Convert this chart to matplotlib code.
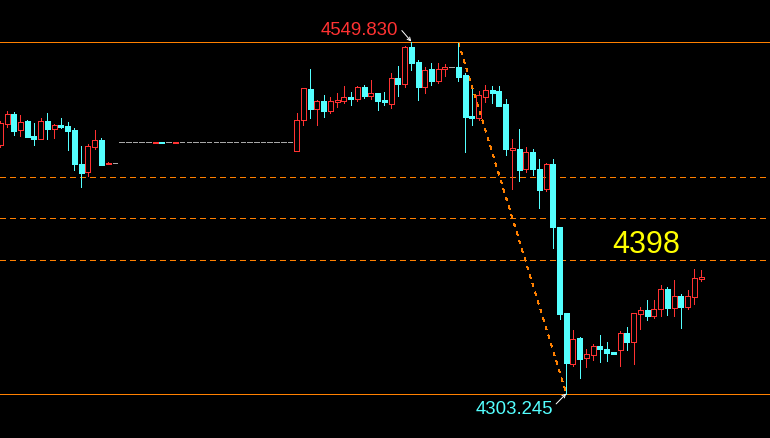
import matplotlib
matplotlib.use("Agg")
import matplotlib.pyplot as plt
from matplotlib.patches import Rectangle

# candle data (price), one entry per bar
opens = [4477.0, 4491.7, 4498.7, 4487.5, 4493.8, 4483.3, 4481.2, 4493.8, 4488.2, 4491.0,
         4490.3, 4487.5, 4463.7, 4458.1, 4475.6, 4480.5, 4464.3, 4464.4, 4479.1, 4479.1,
         4479.1, 4479.1, 4479.1, 4479.0, 4479.1, 4479.1, 4479.0, 4479.1, 4479.1, 4479.1,
         4479.1, 4479.1, 4479.1, 4479.1, 4479.1, 4479.1, 4479.1, 4479.1, 4479.1, 4479.1,
         4479.1, 4479.1, 4479.1, 4479.1, 4472.8, 4494.5, 4516.9, 4502.9, 4508.5, 4500.8,
         4507.8, 4508.5, 4511.3, 4509.9, 4518.3, 4512.0, 4514.1, 4509.2, 4506.4, 4524.6,
         4520.4, 4546.3, 4535.8, 4518.3, 4530.9, 4522.5, 4530.9, 4532.3, 4532.3, 4526.7,
         4497.3, 4495.9, 4511.3, 4516.2, 4515.5, 4506.4, 4473.5, 4474.2, 4460.2, 4472.1,
         4460.2, 4446.2, 4463.7, 4420.2, 4360.0, 4323.6, 4341.8, 4327.8, 4329.9, 4336.2,
         4334.1, 4332.0, 4333.4, 4345.3, 4339.0, 4359.3, 4362.1, 4357.9, 4362.8, 4376.8,
         4363.5, 4371.9, 4364.2, 4371.2, 4383.8]
highs = [4493.8, 4500.8, 4500.1, 4498.0, 4494.5, 4492.4, 4495.9, 4499.4, 4491.7, 4495.9,
         4493.1, 4488.9, 4476.3, 4477.7, 4487.5, 4481.9, 4465.1, 4464.4, 4479.1, 4479.1,
         4479.1, 4479.1, 4479.1, 4479.1, 4479.1, 4479.1, 4479.1, 4479.1, 4479.1, 4479.1,
         4479.1, 4479.1, 4479.1, 4479.1, 4479.1, 4479.1, 4479.1, 4479.1, 4479.1, 4479.1,
         4479.1, 4479.1, 4479.1, 4479.1, 4499.4, 4517.6, 4530.9, 4509.2, 4512.7, 4511.3,
         4514.1, 4519.0, 4514.8, 4519.0, 4519.7, 4523.2, 4514.1, 4514.8, 4528.1, 4533.0,
         4547.0, 4549.83, 4537.2, 4532.3, 4535.1, 4535.1, 4534.4, 4532.3, 4549.1, 4528.1,
         4516.9, 4515.5, 4519.7, 4519.0, 4519.0, 4509.9, 4481.2, 4488.2, 4475.6, 4474.2,
         4467.2, 4464.4, 4467.2, 4420.2, 4360.0, 4347.4, 4342.5, 4334.1, 4337.6, 4343.9,
         4339.0, 4332.0, 4346.7, 4350.2, 4360.0, 4364.2, 4369.1, 4369.1, 4379.6, 4378.2,
         4383.1, 4373.3, 4376.1, 4390.8, 4390.1]
lows = [4475.6, 4489.6, 4484.0, 4483.3, 4482.6, 4477.0, 4481.2, 4481.2, 4481.9, 4488.9,
        4473.5, 4459.5, 4447.6, 4455.3, 4474.2, 4463.0, 4463.7, 4464.4, 4479.1, 4479.1,
        4479.1, 4479.1, 4479.1, 4479.0, 4479.0, 4479.1, 4479.0, 4479.1, 4479.1, 4479.1,
        4479.1, 4479.1, 4479.1, 4479.1, 4479.1, 4479.1, 4479.1, 4479.1, 4479.1, 4479.1,
        4479.1, 4479.1, 4479.1, 4479.1, 4472.8, 4491.0, 4495.9, 4491.0, 4496.6, 4499.4,
        4504.3, 4507.1, 4505.7, 4508.5, 4510.6, 4509.9, 4501.5, 4505.7, 4503.6, 4512.0,
        4518.3, 4530.2, 4509.2, 4514.1, 4519.7, 4521.1, 4526.0, 4532.3, 4522.5, 4472.1,
        4491.0, 4494.5, 4507.8, 4507.1, 4505.0, 4470.0, 4446.2, 4451.8, 4458.1, 4456.0,
        4433.5, 4444.8, 4405.5, 4355.8, 4303.245, 4322.2, 4313.8, 4321.5, 4326.4, 4325.0,
        4325.7, 4330.6, 4322.2, 4333.4, 4323.6, 4348.1, 4355.1, 4356.5, 4357.9, 4358.6,
        4357.9, 4348.8, 4362.8, 4366.3, 4382.4]
closes = [4492.4, 4498.7, 4486.8, 4493.1, 4482.6, 4481.2, 4493.8, 4488.2, 4491.0, 4489.6,
          4486.8, 4463.7, 4457.4, 4476.3, 4480.5, 4463.0, 4464.4, 4464.4, 4479.1, 4479.1,
          4479.1, 4479.1, 4479.1, 4479.1, 4479.0, 4479.1, 4479.1, 4479.1, 4479.1, 4479.1,
          4479.1, 4479.1, 4479.1, 4479.1, 4479.1, 4479.1, 4479.1, 4479.1, 4479.1, 4479.1,
          4479.1, 4479.1, 4479.1, 4479.1, 4494.5, 4517.6, 4502.9, 4508.5, 4500.8, 4508.5,
          4509.2, 4511.3, 4509.9, 4518.3, 4512.0, 4514.1, 4508.5, 4507.8, 4524.6, 4520.4,
          4546.3, 4535.1, 4518.3, 4530.2, 4522.5, 4530.9, 4532.3, 4532.3, 4525.3, 4496.6,
          4495.9, 4512.7, 4516.2, 4514.1, 4505.0, 4474.2, 4474.9, 4459.5, 4472.1, 4460.2,
          4445.5, 4463.7, 4420.2, 4359.3, 4324.3, 4341.1, 4327.1, 4330.6, 4336.2, 4334.1,
          4331.3, 4330.6, 4345.3, 4339.0, 4360.0, 4362.1, 4357.9, 4362.8, 4376.8, 4363.5,
          4371.9, 4364.2, 4371.9, 4384.5, 4385.2]

top_price = 4549.830
bottom_price = 4303.245
top_bar = 61
bottom_bar = 84
trend_start = 68          # trend line from this bar's high to bottom_bar's low
levels = [4455.0, 4426.2, 4396.9]
level_label = "4398"

UP = "#ff3232"
DOWN = "#54ffff"
FLAT = "#a8a8a8"
ORANGE = "#ff8000"
PX = 0.72                 # one pixel in points at dpi 100

plt.rcParams["lines.scale_dashes"] = False
fig = plt.figure(figsize=(7.7, 4.39), dpi=100, facecolor="black")
ax = fig.add_axes([0, 0, 1, 1])
ax.set_facecolor("black")
ax.set_xlim(-0.04, 114.24)
ax.set_ylim(4272.1, 4579.6)
ax.axis("off")

# support / resistance lines
ax.axhline(top_price, color=ORANGE, lw=PX, antialiased=False)
ax.axhline(bottom_price, color=ORANGE, lw=PX, antialiased=False)
for lv in levels:
    ax.axhline(lv, color=ORANGE, lw=PX, antialiased=False, dashes=(3.6, 2.9))

# trend line
ax.plot([trend_start, bottom_bar], [highs[trend_start], lows[bottom_bar]],
        color=ORANGE, lw=PX, dashes=(2.2, 3.6), antialiased=False)

w = 0.742
for i, (o, h, l, c) in enumerate(zip(opens, highs, lows, closes)):
    if o == c:
        ax.hlines(c, i - 0.34, i + 0.34, color=FLAT, lw=PX, antialiased=False,
                  capstyle="butt", zorder=3)
        continue
    top, bot = max(o, c), min(o, c)
    if c > o:
        ax.vlines(i, top, h, color=UP, lw=PX, antialiased=False, zorder=3)
        ax.vlines(i, l, bot, color=UP, lw=PX, antialiased=False, zorder=3)
        ax.add_patch(Rectangle((i - w / 2, bot), w, top - bot, fill=False,
                               edgecolor=UP, lw=PX, antialiased=False, zorder=3))
    else:
        ax.vlines(i, l, h, color=DOWN, lw=PX, antialiased=False, zorder=3)
        ax.add_patch(Rectangle((i - w / 2, bot), w, top - bot, facecolor=DOWN,
                               edgecolor=DOWN, lw=PX, antialiased=False, zorder=3))

# labels
font = ["Liberation Sans", "DejaVu Sans"]
ax.text(47.6, 4558.4, f"{top_price:.3f}", color=UP, fontsize=13.4, family=font,
        ha="left", va="center")
ax.annotate("", xy=(top_bar, top_price), xytext=(59.6, 4557.5),
            arrowprops=dict(arrowstyle="->", color="white", lw=PX,
                            shrinkA=0, shrinkB=0, mutation_scale=6))
ax.text(70.6, 4292.6, f"{bottom_price:.3f}", color=DOWN, fontsize=13.4, family=font,
        ha="left", va="center")
ax.annotate("", xy=(bottom_bar, bottom_price), xytext=(82.5, 4296.0),
            arrowprops=dict(arrowstyle="->", color="white", lw=PX,
                            shrinkA=0, shrinkB=0, mutation_scale=6))
ax.text(90.9, 4407.8, level_label, color="#ffff00", fontsize=22, family=font,
        ha="left", va="center")

fig.savefig("out.png", dpi=100, facecolor="black")
